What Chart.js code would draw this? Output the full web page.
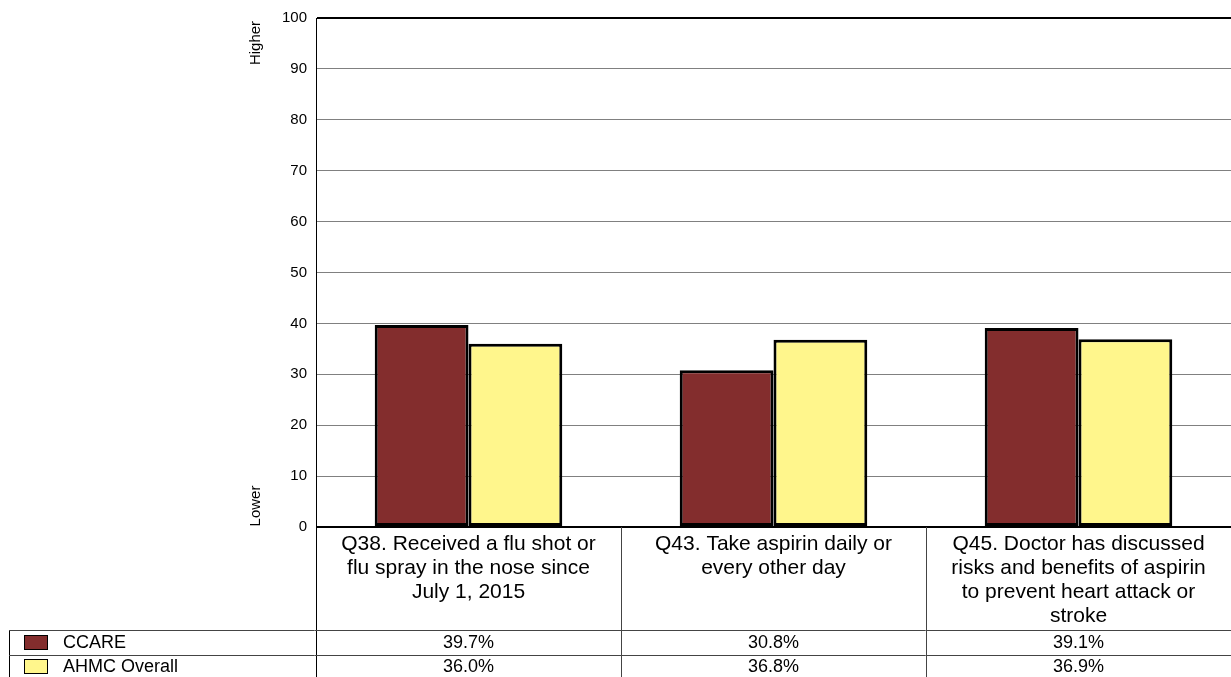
<!DOCTYPE html>
<html>
<head>
<meta charset="utf-8">
<script src="https://cdn.jsdelivr.net/npm/chart.js@4.4.0/dist/chart.umd.min.js"></script>
<style>
  body { margin: 0; background: #fff; }
  canvas { display: block; }
</style>
</head>
<body>
<canvas id="myChart" width="1231" height="677"></canvas>
<script>
const categories = [
    ['Q38. Received a flu shot or', 'flu spray in the nose since', 'July 1, 2015'],
    ['Q43. Take aspirin daily or', 'every other day'],
    ['Q45. Doctor has discussed', 'risks and benefits of aspirin', 'to prevent heart attack or', 'stroke']
];
const seriesNames = ['CCARE', 'AHMC Overall'];
const ccareValues = [39.7, 30.8, 39.1];
const ahmcValues = [36.0, 36.8, 36.9];
const seriesColors = ['#832d2d', '#fff68c'];

const font = 'Arial, "Liberation Sans", sans-serif';

// draws the category labels, the data table and the Higher/Lower notes
const tablePlugin = {
    id: 'tablePlugin',
    afterDraw(chart) {
        const ctx = chart.ctx;
        const x = chart.scales.x;
        const area = chart.chartArea;
        const colW = (area.right - area.left) / categories.length;
        const rowTop = 630, rowMid = 655, bottom = 677;

        ctx.save();
        ctx.fillStyle = '#000';
        ctx.textAlign = 'center';
        ctx.textBaseline = 'middle';

        // Higher / Lower
        ctx.font = '15px ' + font;
        [['Higher', 43], ['Lower', 506]].forEach(([txt, yy]) => {
            ctx.save();
            ctx.translate(256, yy);
            ctx.rotate(-Math.PI / 2);
            ctx.fillText(txt, 0, 0);
            ctx.restore();
        });

        // lines
        ctx.lineWidth = 1;
        ctx.strokeStyle = '#000';
        ctx.beginPath();
        ctx.moveTo(area.left + 0.5, area.bottom);
        ctx.lineTo(area.left + 0.5, bottom);
        ctx.moveTo(9.5, rowTop);
        ctx.lineTo(9.5, bottom);
        ctx.stroke();

        ctx.strokeStyle = '#444';
        ctx.beginPath();
        for (let i = 1; i < categories.length; i++) {
            const lx = Math.round(area.left + colW * i) + 0.5;
            ctx.moveTo(lx, area.bottom);
            ctx.lineTo(lx, bottom);
        }
        ctx.moveTo(9, rowTop + 0.5);
        ctx.lineTo(area.right, rowTop + 0.5);
        ctx.moveTo(9, rowMid + 0.5);
        ctx.lineTo(area.right, rowMid + 0.5);
        ctx.stroke();

        // category labels
        ctx.font = '21px ' + font;
        categories.forEach((lines, i) => {
            const cx = x.getPixelForValue(i);
            lines.forEach((line, j) => {
                ctx.fillText(line, cx, 544 + j * 24);
            });
        });

        // table rows
        const rows = [ccareValues, ahmcValues];
        const rowY = [643, 667];
        ctx.font = '18px ' + font;
        rows.forEach((vals, r) => {
            ctx.fillStyle = seriesColors[r];
            ctx.fillRect(24, rowY[r] - 8, 24, 15);
            ctx.strokeStyle = '#000';
            ctx.strokeRect(24.5, rowY[r] - 7.5, 23, 14);
            ctx.fillStyle = '#000';
            ctx.textAlign = 'left';
            ctx.fillText(seriesNames[r], 63, rowY[r]);
            ctx.textAlign = 'center';
            vals.forEach((v, i) => {
                ctx.fillText(v.toFixed(1) + '%', x.getPixelForValue(i), rowY[r]);
            });
        });
        ctx.restore();
    }
};

new Chart(document.getElementById('myChart'), {
    type: 'bar',
    data: {
        labels: categories,
        datasets: [
            {
                label: seriesNames[0],
                data: ccareValues,
                backgroundColor: seriesColors[0],
                borderColor: '#000',
                borderWidth: 3,
                borderSkipped: false
            },
            {
                label: seriesNames[1],
                data: ahmcValues,
                backgroundColor: seriesColors[1],
                borderColor: '#000',
                borderWidth: 3,
                borderSkipped: false
            }
        ]
    },
    options: {
        responsive: false,
        animation: false,
        events: [],
        layout: { padding: { top: 18, bottom: 150, left: 0, right: 0 } },
        datasets: { bar: { categoryPercentage: 0.615, barPercentage: 1.0 } },
        plugins: { legend: { display: false }, tooltip: { enabled: false } },
        scales: {
            x: { display: false, offset: true },
            y: {
                min: 0,
                max: 100,
                afterFit(scale) { scale.width = 316; },
                ticks: {
                    stepSize: 10,
                    padding: 9,
                    color: '#000',
                    font: { family: font, size: 15 }
                },
                grid: {
                    drawTicks: false,
                    color: ctx => (ctx.tick.value === 0 || ctx.tick.value === 100) ? '#000' : '#808080',
                    lineWidth: ctx => (ctx.tick.value === 0 || ctx.tick.value === 100) ? 2 : 1
                },
                border: { display: true, color: '#000', width: 1 }
            }
        }
    },
    plugins: [tablePlugin]
});
</script>
</body>
</html>
